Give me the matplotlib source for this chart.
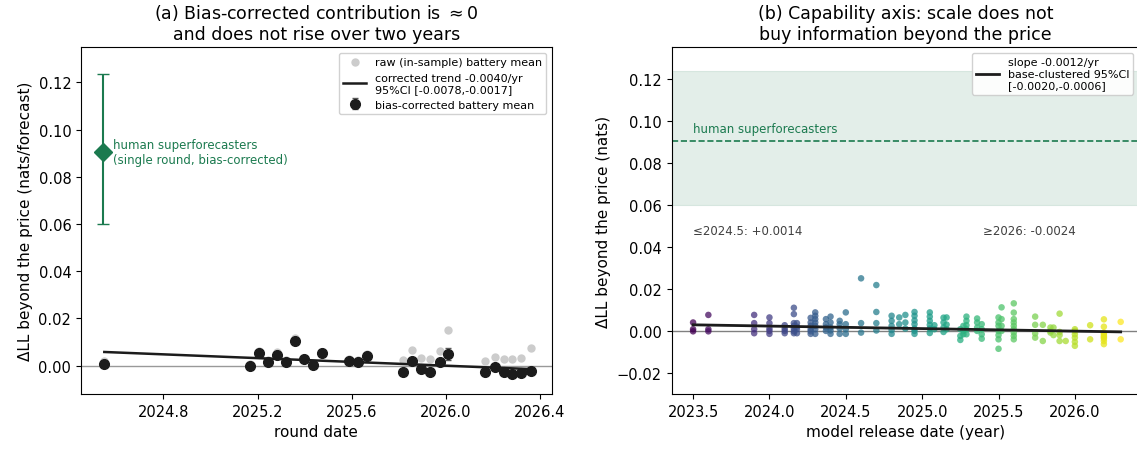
import numpy as np
import matplotlib
matplotlib.use("Agg")
import matplotlib.pyplot as plt
from matplotlib.lines import Line2D

# ---------------- data: panel (a) ----------------
round_dates = [2024.549, 2025.168, 2025.208, 2025.246, 2025.283, 2025.321, 2025.361,
               2025.398, 2025.436, 2025.474, 2025.588, 2025.627, 2025.667, 2025.820,
               2025.858, 2025.895, 2025.935, 2025.974, 2026.010, 2026.168, 2026.208,
               2026.246, 2026.283, 2026.321, 2026.360]
raw_mean = [0.0020, 0.0008, 0.0062, 0.0022, 0.0056, 0.0024, 0.0116, 0.0034, 0.0010,
            0.0060, 0.0028, 0.0024, 0.0050, 0.0024, 0.0068, 0.0034, 0.0028, 0.0064,
            0.0150, 0.0020, 0.0038, 0.0027, 0.0027, 0.0032, 0.0075]
corrected_mean = [0.0007, 0.0000, 0.0052, 0.0014, 0.0046, 0.0014, 0.0106, 0.0028, 0.0004,
                  0.0052, 0.0018, 0.0014, 0.0039, -0.0025, 0.0018, -0.0015, -0.0025, 0.0014,
                  0.0048, -0.0028, -0.0004, -0.0025, -0.0035, -0.0032, -0.0021]
corrected_err = [0.0010, 0.0008, 0.0010, 0.0008, 0.0010, 0.0008, 0.0012, 0.0008, 0.0008,
                 0.0010, 0.0008, 0.0008, 0.0010, 0.0010, 0.0012, 0.0010, 0.0010, 0.0012,
                 0.0025, 0.0010, 0.0010, 0.0010, 0.0010, 0.0010, 0.0010]
trend_a_slope = -0.0040
trend_a_start = (2024.549, 0.0058)
trend_a_end_x = 2026.360

human_date = 2024.545
human_value = 0.0905
human_ci = (0.0600, 0.1235)

# ---------------- data: panel (b) ----------------
model_dates = [2023.50, 2023.60, 2023.90, 2024.00, 2024.10, 2024.16, 2024.18, 2024.27,
               2024.30, 2024.37, 2024.40, 2024.46, 2024.50, 2024.60, 2024.70, 2024.80,
               2024.85, 2024.89, 2024.95, 2025.05, 2025.08, 2025.14, 2025.16, 2025.25,
               2025.27, 2025.29, 2025.36, 2025.39, 2025.50, 2025.52, 2025.60, 2025.74,
               2025.79, 2025.84, 2025.86, 2025.90, 2025.94, 2026.00, 2026.10, 2026.19,
               2026.30]
model_values = [
    [0.0040, 0.0008, -0.0002],
    [0.0076, 0.0008, -0.0002],
    [0.0076, 0.0037, 0.0008, -0.0011],
    [0.0064, 0.0037, 0.0011, 0.0000, -0.0014],
    [0.0027, 0.0011, 0.0000, -0.0011],
    [0.0110, 0.0080, 0.0037, 0.0024, 0.0011, -0.0002, -0.0011],
    [0.0037, 0.0020, 0.0008, -0.0011],
    [0.0062, 0.0040, 0.0024, 0.0008, -0.0002, -0.0014],
    [0.0088, 0.0072, 0.0056, 0.0040, 0.0024, 0.0008, -0.0014],
    [0.0056, 0.0032, 0.0016, 0.0000],
    [0.0068, 0.0040, 0.0016, 0.0002, -0.0014],
    [0.0048, 0.0032, 0.0012, -0.0014],
    [0.0088, 0.0032, 0.0008, -0.0014],
    [0.0250, 0.0037, -0.0008],
    [0.0218, 0.0090, 0.0037, 0.0002],
    [0.0072, 0.0048, 0.0024, 0.0004, -0.0014],
    [0.0064, 0.0032],
    [0.0076, 0.0040, 0.0011],
    [0.0090, 0.0072, 0.0050, 0.0032, 0.0011, 0.0000, -0.0014],
    [0.0088, 0.0068, 0.0048, 0.0029, 0.0011, -0.0010],
    [0.0027, 0.0008],
    [0.0063, 0.0040, 0.0016, -0.0005],
    [0.0064, 0.0030, 0.0008],
    [0.0008, -0.0024, -0.0043],
    [0.0024, 0.0000, -0.0016],
    [0.0068, 0.0048, 0.0027, 0.0008, -0.0016],
    [0.0059, 0.0040, 0.0016, 0.0000],
    [0.0032, 0.0008, -0.0016, -0.0037],
    [0.0064, 0.0040, 0.0024, 0.0000, -0.0020, -0.0040, -0.0085],
    [0.0112, 0.0056, 0.0024, 0.0000],
    [0.0131, 0.0087, 0.0056, 0.0040, 0.0024, 0.0008, -0.0008, -0.0024, -0.0040],
    [0.0068, 0.0029, -0.0032, -0.0012],
    [0.0029, -0.0048],
    [0.0000, 0.0016, -0.0008],
    [0.0016, -0.0020],
    [0.0082, -0.0020, -0.0048, -0.0005],
    [-0.0048],
    [0.0008, 0.0000, -0.0016, -0.0032, -0.0052, -0.0071],
    [0.0027, -0.0040],
    [0.0055, 0.0020, -0.0008, -0.0015, -0.0024, -0.0030, -0.0036, -0.0048, -0.0063],
    [0.0043, -0.0040],
]
trend_b_slope = -0.0012
trend_b_start = (2023.50, 0.0029)
trend_b_end_x = 2026.30
trend_b_band = 0.0004
early_label = "≤2024.5: +0.0014"
late_label = "≥2026: -0.0024"

# ---------------- styling ----------------
GREEN = "#1b7a4f"
DARK = "#1c1c1c"

fig = plt.figure(figsize=(11.37, 4.52), dpi=100)
axA = fig.add_axes([0.07124, 0.12611, 0.41398, 0.76770])
axB = fig.add_axes([0.59077, 0.12611, 0.41100, 0.76770])

TICK_FS = 10.5
LABEL_FS = 11
TITLE_FS = 12.5

# ---------- panel (a) ----------
axA.axhline(0, color="0.6", lw=1.0, zorder=1)
axA.scatter(round_dates, raw_mean, s=25, color="#cccccc", zorder=2,
            label="raw (in-sample) battery mean")
xa = np.array([trend_a_start[0], trend_a_end_x])
ya = trend_a_start[1] + trend_a_slope * (xa - trend_a_start[0])
axA.plot(xa, ya, color=DARK, lw=1.8, zorder=4,
         label="corrected trend -0.0040/yr\n95%CI [-0.0078,-0.0017]")
axA.errorbar(round_dates, corrected_mean, yerr=corrected_err, fmt="o", ms=7,
             color=DARK, ecolor="0.35", elinewidth=1, capsize=2, zorder=3,
             label="bias-corrected battery mean")
axA.errorbar([human_date], [human_value],
             yerr=[[human_value - human_ci[0]], [human_ci[1] - human_value]],
             fmt="D", ms=9, color=GREEN, lw=1.5, capsize=4, zorder=5)
axA.text(human_date + 0.042, human_value,
         "human superforecasters\n(single round, bias-corrected)",
         color=GREEN, fontsize=8.5, va="center", ha="left")
axA.set_xlim(2024.45, 2026.45)
axA.set_ylim(-0.012, 0.135)
axA.set_xticks([2024.8, 2025.2, 2025.6, 2026.0, 2026.4])
axA.set_xticklabels(["2024.8", "2025.2", "2025.6", "2026.0", "2026.4"])
axA.set_yticks([0.00, 0.02, 0.04, 0.06, 0.08, 0.10, 0.12])
axA.tick_params(labelsize=TICK_FS)
axA.set_xlabel("round date", fontsize=LABEL_FS)
axA.set_ylabel("ΔLL beyond the price (nats/forecast)", fontsize=LABEL_FS)
axA.set_title("(a) Bias-corrected contribution is $\\approx 0$\nand does not rise over two years",
              fontsize=TITLE_FS)
hA, lA = axA.get_legend_handles_labels()
order = [lA.index("raw (in-sample) battery mean"),
         lA.index("corrected trend -0.0040/yr\n95%CI [-0.0078,-0.0017]"),
         lA.index("bias-corrected battery mean")]
axA.legend([hA[i] for i in order], [lA[i] for i in order], loc="upper right",
           fontsize=8, framealpha=0.9)

# ---------- panel (b) ----------
axB.axhspan(human_ci[0], human_ci[1], color=GREEN, alpha=0.12, lw=0.8, zorder=0)
axB.axhline(human_value, color=GREEN, ls="--", lw=1.2, zorder=1)
axB.text(2023.50, human_value + 0.0025, "human superforecasters", color=GREEN,
         fontsize=8.5, va="bottom", ha="left")
axB.axhline(0, color="0.5", lw=1.0, zorder=1)

xs, ys = [], []
for d, vals in zip(model_dates, model_values):
    for v in vals:
        xs.append(d)
        ys.append(v)
xs = np.array(xs)
ys = np.array(ys)
axB.scatter(xs, ys, c=xs, cmap="viridis", vmin=min(model_dates), vmax=max(model_dates),
            s=22, alpha=0.75, linewidths=0, zorder=2)
xb = np.linspace(trend_b_start[0], trend_b_end_x, 50)
yb = trend_b_start[1] + trend_b_slope * (xb - trend_b_start[0])
axB.fill_between(xb, yb - trend_b_band, yb + trend_b_band, color="0.5", alpha=0.25,
                 lw=0, zorder=3)
axB.plot(xb, yb, color=DARK, lw=2, zorder=4)
axB.text(2023.50, 0.0445, early_label, fontsize=8.5, color="0.25", ha="left", va="bottom")
axB.text(2025.40, 0.0445, late_label, fontsize=8.5, color="0.25", ha="left", va="bottom")

axB.set_xlim(2023.36, 2026.42)
axB.set_ylim(-0.030, 0.135)
axB.set_xticks([2023.5, 2024.0, 2024.5, 2025.0, 2025.5, 2026.0])
axB.set_xticklabels(["2023.5", "2024.0", "2024.5", "2025.0", "2025.5", "2026.0"])
axB.set_yticks([-0.02, 0.00, 0.02, 0.04, 0.06, 0.08, 0.10, 0.12])
axB.tick_params(labelsize=TICK_FS)
axB.set_xlabel("model release date (year)", fontsize=LABEL_FS)
axB.set_ylabel("ΔLL beyond the price (nats)", fontsize=LABEL_FS)
axB.set_title("(b) Capability axis: scale does not\nbuy information beyond the price",
              fontsize=TITLE_FS)
axB.legend([Line2D([0], [0], color=DARK, lw=2)],
           ["slope -0.0012/yr\nbase-clustered 95%CI\n[-0.0020,-0.0006]"],
           loc="upper right", fontsize=8, framealpha=0.9)

fig.savefig("out.png", dpi=100)
